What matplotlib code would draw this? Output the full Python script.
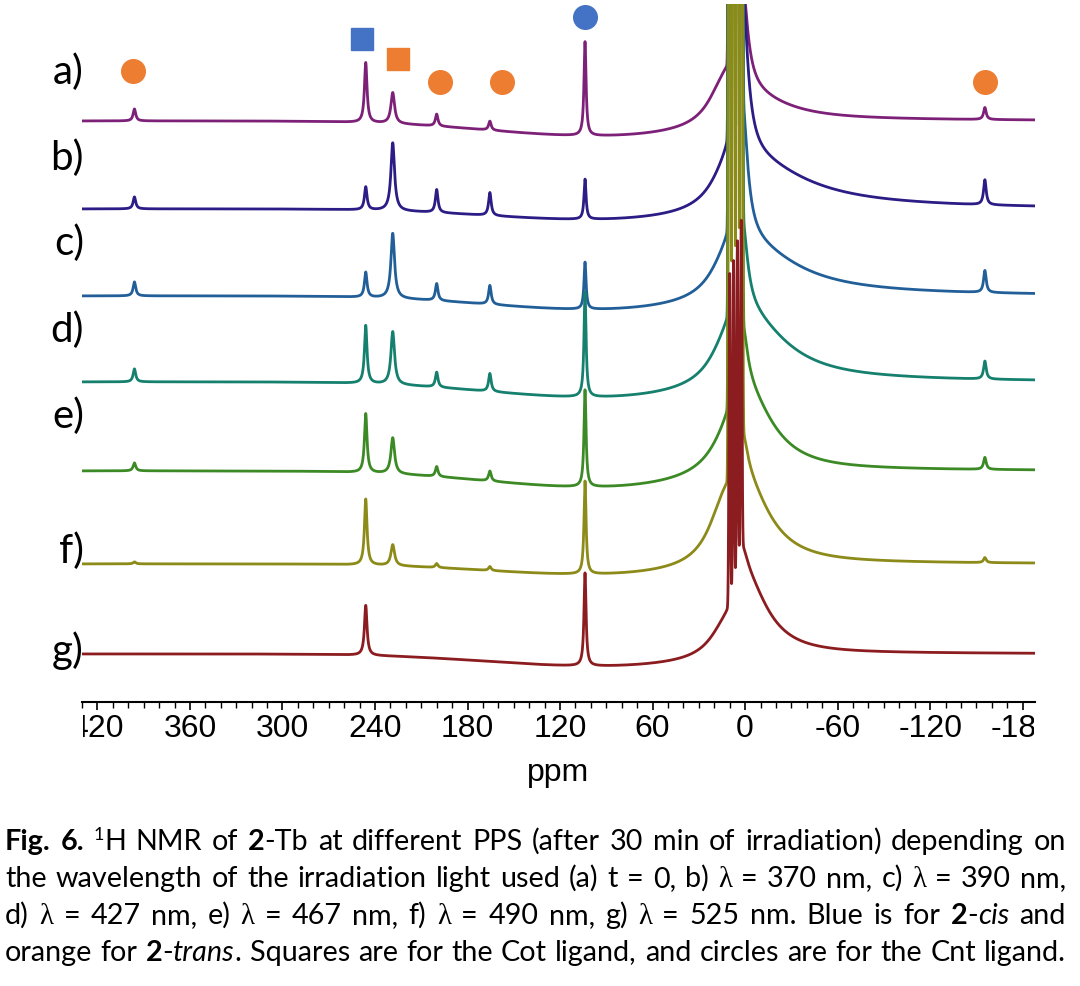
import numpy as np
import matplotlib
matplotlib.use("Agg")
import matplotlib.pyplot as plt
from matplotlib.ticker import MultipleLocator
from matplotlib.transforms import Bbox, blended_transform_factory

plt.rcParams['axes.unicode_minus'] = False

# ---- values (plot units ~ pixels) ----
labels = ['a)', 'b)', 'c)', 'd)', 'e)', 'f)', 'g)']
colors = ['#7d2078', '#2b1c86', '#225f98', '#16806f', '#3c8a25', '#8c8a18', '#8b1c1f']
baseline = [581, 493, 406, 320, 231, 138, 48]

# sharp paramagnetic signals (ppm), their half widths and heights per trace
peak_ppm = [396, 246, 228.5, 200, 165.5, 103.8, -155.5]
peak_hwhm = [1.0, 1.0, 1.4, 1.0, 1.0, 0.8, 1.0]
peak_height = [
    [12, 60, 31, 12, 9, 94, 12],
    [12, 23, 68, 23, 23, 40, 25],
    [14, 25, 65, 17, 19, 47, 22],
    [13, 58, 53, 15, 18, 105, 18],
    [8, 59, 36, 10, 10, 97, 12],
    [2, 66, 21, 4, 4, 93, 5],
    [0, 50, 0, 0, 0, 93, 0],
]

# broad asymmetric hump under the diamagnetic region
broad_height = [28, 54, 56, 72, 85, 76, 76]
broad_hwhm_left = [12, 15, 15, 15, 15, 12, 9]
broad_hwhm_right = [35, 45, 40, 32, 22, 20, 18]
narrow_height = [107, 175, 143, 95, 70, 43, 30]
shoulder_height = [36, 16, 17, 16, 8, 45, 20]
dip_depth = [16, 12, 15, 17, 18, 12, 13]

# solvent signals, clipped at the top
solvent_ppm = [10.0, 7.5, 5.0, 2.5]
solvent_height = [5000, 5000, 5000, 5000, 5000, 5000, 330]

# assignment symbols
marker_ppm = [248.4, 225, 397, 197.8, 157.6, -155.7, 103.8]
marker_shape = ['s', 's', 'o', 'o', 'o', 'o', 'o']
marker_color = ['#4472C4', '#ED7D31', '#ED7D31', '#ED7D31', '#ED7D31', '#ED7D31', '#4472C4']
marker_y = [663, 643, 631, 620, 620, 620, 685]
label_y = [631, 545, 460, 373, 287, 152, 52]

caption = [
    [('Fig. 6.', 'b'), (' ', 'r'), ('1', 'sup'), ('H NMR of ', 'r'), ('2', 'b'),
     ('-Tb at different PPS (after 30 min of irradiation) depending on', 'r')],
    [('the wavelength of the irradiation light used (a) t = 0, b) ', 'r'), ('\u03bb', 'l'),
     (' = 370 nm, c) ', 'r'), ('\u03bb', 'l'), (' = 390 nm,', 'r')],
    [('d) ', 'r'), ('\u03bb', 'l'), (' = 427 nm, e) ', 'r'), ('\u03bb', 'l'), (' = 467 nm, f) ', 'r'),
     ('\u03bb', 'l'), (' = 490 nm, g) ', 'r'), ('\u03bb', 'l'), (' = 525 nm. Blue is for ', 'r'),
     ('2', 'b'), ('-', 'r'), ('cis', 'i'), (' and', 'r')],
    [('orange for ', 'r'), ('2', 'b'), ('-', 'r'), ('trans', 'i'),
     ('. Squares are for the Cot ligand, and circles are for the Cnt ligand.', 'r')],
]


def lorentz(x, x0, w):
    return 1.0 / (1.0 + ((x - x0) / w) ** 2)


def gauss(x, x0, s):
    return np.exp(-0.5 * ((x - x0) / s) ** 2)


W, H = 1080, 987
fig = plt.figure(figsize=(W / 100, H / 100), dpi=100)
ax = fig.add_axes([82 / W, 284 / H, (1035 - 82) / W, 698 / H])

ppm = np.linspace(430, -188, 12000)
for i in range(len(labels)):
    wb = np.where(ppm > 0, broad_hwhm_left[i], broad_hwhm_right[i])
    y = baseline[i] - dip_depth[i] * gauss(ppm, 90, 75)
    y = y + broad_height[i] * lorentz(ppm, 0, wb)
    y = y + narrow_height[i] * lorentz(ppm, 2, 4)
    y = y + shoulder_height[i] * lorentz(ppm, 14, 12)
    for p, w, h in zip(peak_ppm, peak_hwhm, peak_height[i]):
        y = y + h * lorentz(ppm, p, w)
    for p in solvent_ppm:
        y = y + solvent_height[i] * gauss(ppm, p, 0.45)
    ax.plot(ppm, y, color=colors[i], lw=2.0)

for p, yy, m, c in zip(marker_ppm, marker_y, marker_shape, marker_color):
    ax.plot(p, yy, marker=m, ms=17 if m == 'o' else 16.5, color=c, mec=c, clip_on=False)

trans = blended_transform_factory(ax.transAxes, ax.transData)
for lab, yy in zip(labels, label_y):
    ax.text(0.002, yy, lab, transform=trans, ha='right', va='center',
            fontsize=29, family='Lato')

ax.set_xlim(430, -188)
ax.set_ylim(0, 698)
for s in ['left', 'right', 'top']:
    ax.spines[s].set_visible(False)
ax.spines['bottom'].set_linewidth(1.5)
ax.set_yticks([])
ax.xaxis.set_major_locator(MultipleLocator(60))
ax.xaxis.set_minor_locator(MultipleLocator(10))
ax.tick_params(axis='x', which='major', direction='out', length=6, width=1.2,
               labelsize=23, pad=2)
ax.tick_params(axis='x', which='minor', direction='out', length=4, width=1.0)
for t in ax.get_xticklabels():
    t.set_family('Liberation Sans')
ax.set_xlabel('ppm', fontsize=23, family='Liberation Sans', labelpad=10)

# the source image is cropped through the outermost tick labels
clip = Bbox.from_extents(83, 0, 1034, H)
for tk in ax.xaxis.get_major_ticks():
    tk.label1.set_clip_box(clip)
    tk.label1.set_clip_on(True)

# ---- justified caption ----
renderer = fig.canvas.get_renderer()
body = ['Lato', 'DejaVu Sans']
styles = {
    'r': dict(family=body),
    'b': dict(family=body, weight='bold'),
    'i': dict(family=body, style='italic'),
    'l': dict(family=['Liberation Serif', 'DejaVu Serif']),
    'sup': dict(family=body),
}


def words_of(runs):
    words = [[]]
    for txt, st in runs:
        for k, part in enumerate(txt.split(' ')):
            if k > 0:
                words.append([])
            if part:
                words[-1].append((part, st))
    return [w for w in words if w]


def width(txt, st, fs):
    size = fs * 0.62 if st == 'sup' else fs
    t = fig.text(0, 0, txt, fontsize=size, **styles[st])
    w = t.get_window_extent(renderer).width
    t.remove()
    return w


x0, x1 = 5, 1066
fs0 = 18
lines = [words_of(r) for r in caption]
space0 = width('a a', 'r', fs0) - width('aa', 'r', fs0)
natural = [sum(width(p, s, fs0) for wd in ln for p, s in wd) + space0 * (len(ln) - 1)
           for ln in lines]
fs = fs0 * (x1 - x0) / max(natural) * 0.985

base_y = [850, 887, 924, 961]
for ln, by in zip(lines, base_y):
    ww = [[width(p, s, fs) for p, s in wd] for wd in ln]
    gap = (x1 - x0 - sum(sum(w) for w in ww)) / (len(ln) - 1)
    x = x0
    for wd, wl in zip(ln, ww):
        for (p, s), w in zip(wd, wl):
            if s == 'sup':
                fig.text(x / W, (H - by + fs * 0.5) / H, p, fontsize=fs * 0.62,
                         va='baseline', **styles[s])
            else:
                fig.text(x / W, (H - by) / H, p, fontsize=fs, va='baseline', **styles[s])
            x += w
        x += gap

fig.savefig('out.png', dpi=100)
